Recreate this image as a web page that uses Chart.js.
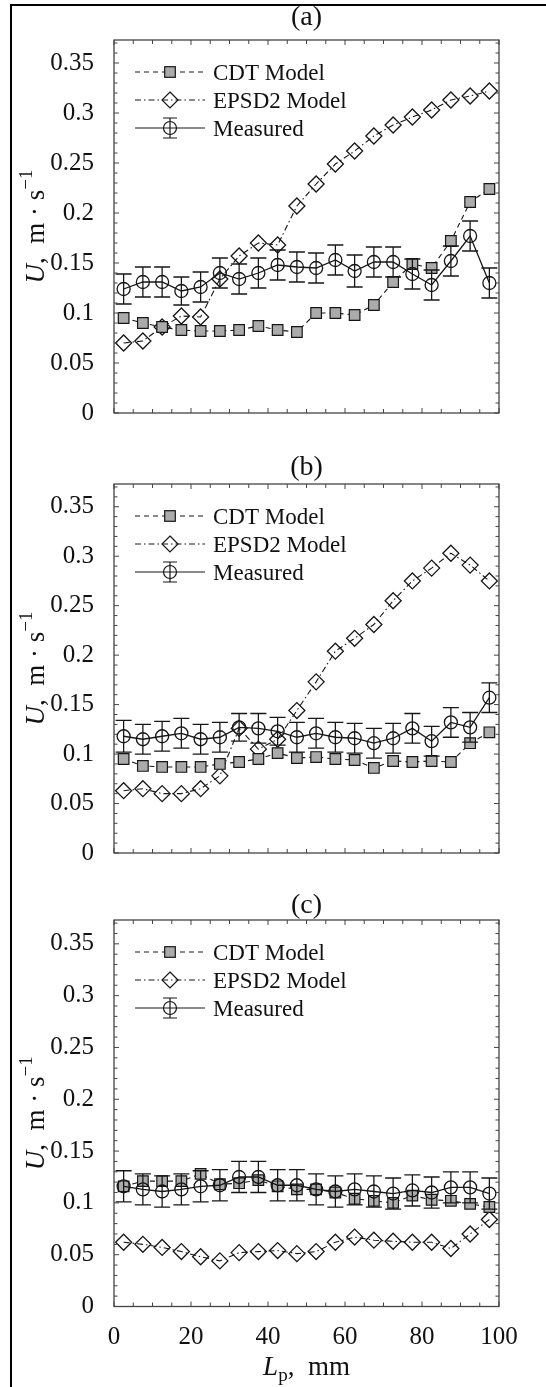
<!DOCTYPE html>
<html>
<head>
<meta charset="utf-8">
<script src="https://cdn.jsdelivr.net/npm/chart.js@4.4.1/dist/chart.umd.min.js"></script>
<style>
  html, body { margin: 0; padding: 0; background: #fff; }
  #page { position: relative; width: 546px; height: 1387px; overflow: hidden; }
  #frame { position: absolute; left: 10px; top: 4px; right: -10px; bottom: -10px;
           border-left: 2px solid #000; border-top: 2px solid #000; }
  canvas { position: absolute; left: 0; }
</style>
</head>
<body>
<div id="page">
  <div id="frame"></div>
  <canvas id="chartA" width="546" height="440" style="top:0px"></canvas>
  <canvas id="chartB" width="546" height="440" style="top:440px"></canvas>
  <canvas id="chartC" width="546" height="507" style="top:880px"></canvas>
</div>
<script>
// x positions (mm) and tick labels
const lpMm = [2.5, 7.5, 12.5, 17.5, 22.5, 27.5, 32.5, 37.5, 42.5, 47.5,
              52.5, 57.5, 62.5, 67.5, 72.5, 77.5, 82.5, 87.5, 92.5, 97.5];
const xTickLabels = [0, 20, 40, 60, 80, 100];
const yTickLabels = [0, 0.05, 0.1, 0.15, 0.2, 0.25, 0.3, 0.35];
const seriesNames = ['CDT Model', 'EPSD2 Model', 'Measured'];
const panelNames = ['(a)', '(b)', '(c)'];

// panel (a)
const cdtA  = [0.095, 0.090, 0.086, 0.083, 0.082, 0.082, 0.083, 0.087, 0.083, 0.081,
               0.100, 0.100, 0.098, 0.108, 0.131, 0.149, 0.145, 0.172, 0.211, 0.224];
const epsdA = [0.070, 0.072, 0.086, 0.097, 0.096, 0.134, 0.157, 0.170, 0.168, 0.207,
               0.229, 0.249, 0.262, 0.277, 0.288, 0.296, 0.303, 0.313, 0.317, 0.322];
const measA = [0.124, 0.131, 0.131, 0.122, 0.126, 0.140, 0.134, 0.140, 0.148, 0.146,
               0.145, 0.153, 0.142, 0.151, 0.151, 0.139, 0.128, 0.152, 0.177, 0.130];
const errA  = [0.015, 0.015, 0.015, 0.014, 0.015, 0.015, 0.015, 0.015, 0.015, 0.015,
               0.015, 0.015, 0.016, 0.015, 0.015, 0.015, 0.015, 0.015, 0.015, 0.015];

// panel (b)
const cdtB  = [0.095, 0.088, 0.087, 0.087, 0.087, 0.090, 0.092, 0.095, 0.101, 0.096,
               0.097, 0.095, 0.094, 0.086, 0.093, 0.092, 0.093, 0.092, 0.111, 0.122];
const epsdB = [0.063, 0.065, 0.060, 0.060, 0.065, 0.078, 0.126, 0.105, 0.115, 0.144,
               0.173, 0.204, 0.217, 0.231, 0.255, 0.275, 0.288, 0.303, 0.291, 0.275];
const measB = [0.118, 0.115, 0.118, 0.121, 0.115, 0.117, 0.127, 0.126, 0.123, 0.117,
               0.121, 0.117, 0.116, 0.111, 0.116, 0.126, 0.113, 0.132, 0.127, 0.157];
const errB  = [0.016, 0.015, 0.015, 0.015, 0.015, 0.015, 0.014, 0.015, 0.014, 0.015,
               0.015, 0.015, 0.015, 0.015, 0.015, 0.015, 0.015, 0.015, 0.015, 0.015];

// panel (c)
const cdtC  = [0.116, 0.121, 0.121, 0.121, 0.128, 0.118, 0.119, 0.122, 0.116, 0.113,
               0.113, 0.110, 0.104, 0.102, 0.100, 0.107, 0.103, 0.102, 0.099, 0.096];
const epsdC = [0.062, 0.060, 0.057, 0.053, 0.048, 0.044, 0.052, 0.053, 0.054, 0.051,
               0.053, 0.062, 0.067, 0.064, 0.063, 0.062, 0.062, 0.056, 0.070, 0.084];
const measC = [0.116, 0.113, 0.111, 0.113, 0.116, 0.117, 0.125, 0.125, 0.117, 0.117,
               0.113, 0.111, 0.113, 0.111, 0.109, 0.112, 0.110, 0.115, 0.115, 0.109];
const errC  = [0.015, 0.015, 0.015, 0.015, 0.015, 0.015, 0.015, 0.015, 0.015, 0.015,
               0.015, 0.015, 0.015, 0.015, 0.015, 0.015, 0.015, 0.015, 0.015, 0.015];

const SERIF = '"Liberation Serif", "Times New Roman", serif';
const INK = '#161616';
const SQUARE_FILL = '#ababab';
const DASH_CDT = [5, 4];
const DASH_EPSD = [6, 3, 1.5, 3];

function pts(arr) { return lpMm.map((x, i) => ({ x, y: arr[i] })); }

// draw a text run made of pieces with different fonts / offsets, centred on 0
function drawRuns(ctx, runs) {
  let total = 0;
  runs.forEach(r => { ctx.font = r.f; r.w = ctx.measureText(r.t).width; total += r.w; });
  let x = -total / 2;
  runs.forEach(r => { ctx.font = r.f; ctx.fillText(r.t, x, r.dy || 0); x += r.w; });
}

function drawMarker(ctx, kind, x, y) {
  ctx.save();
  ctx.setLineDash([]);
  ctx.strokeStyle = INK;
  ctx.lineWidth = 1.2;
  if (kind === 'square') {
    const s = 5.3;
    ctx.fillStyle = SQUARE_FILL;
    ctx.fillRect(x - s, y - s, 2 * s, 2 * s);
    ctx.strokeRect(x - s, y - s, 2 * s, 2 * s);
  } else if (kind === 'diamond') {
    const r = 8;
    ctx.beginPath();
    ctx.moveTo(x, y - r); ctx.lineTo(x + r, y); ctx.lineTo(x, y + r); ctx.lineTo(x - r, y);
    ctx.closePath(); ctx.stroke();
  } else {
    ctx.beginPath(); ctx.arc(x, y, 6.5, 0, Math.PI * 2); ctx.stroke();
    ctx.beginPath();
    ctx.moveTo(x, y - 10); ctx.lineTo(x, y + 10);
    ctx.moveTo(x - 7, y - 10); ctx.lineTo(x + 7, y - 10);
    ctx.moveTo(x - 7, y + 10); ctx.lineTo(x + 7, y + 10);
    ctx.stroke();
  }
  ctx.restore();
}

// box, inward ticks, error bars, legend and text labels
const panelDeco = {
  id: 'panelDeco',
  afterDatasetsDraw(chart, args, opts) {
    const ctx = chart.ctx, ys = chart.scales.y;
    const meta = chart.getDatasetMeta(opts.measIndex);
    ctx.save();
    ctx.strokeStyle = INK;
    ctx.lineWidth = 1.3;
    ctx.beginPath();
    meta.data.forEach((p, i) => {
      const v = opts.meas[i], e = opts.err[i];
      const yt = ys.getPixelForValue(v + e), yb = ys.getPixelForValue(v - e);
      ctx.moveTo(p.x, yt); ctx.lineTo(p.x, yb);
      ctx.moveTo(p.x - 8, yt); ctx.lineTo(p.x + 8, yt);
      ctx.moveTo(p.x - 8, yb); ctx.lineTo(p.x + 8, yb);
    });
    ctx.stroke();
    ctx.restore();
  },
  afterDraw(chart, args, opts) {
    const ctx = chart.ctx, a = chart.chartArea;
    const xs = chart.scales.x, ys = chart.scales.y;
    ctx.save();
    // axes box
    ctx.strokeStyle = '#444';
    ctx.lineWidth = 1.3;
    ctx.strokeRect(a.left, a.top, a.right - a.left, a.bottom - a.top);
    // inward ticks
    ctx.lineWidth = 1;
    ctx.beginPath();
    for (let k = 0; k <= 20; k++) {
      const x = xs.getPixelForValue(k * 5), len = k % 4 === 0 ? 5 : 4;
      ctx.moveTo(x, a.bottom); ctx.lineTo(x, a.bottom - len);
      ctx.moveTo(x, a.top); ctx.lineTo(x, a.top + len);
    }
    for (let k = 0; k <= 37; k++) {
      const y = ys.getPixelForValue(k / 100), len = k % 5 === 0 ? 5 : 3.5;
      ctx.moveTo(a.left, y); ctx.lineTo(a.left + len, y);
      ctx.moveTo(a.right, y); ctx.lineTo(a.right - len, y);
    }
    ctx.stroke();

    ctx.fillStyle = '#111';
    ctx.textBaseline = 'alphabetic';
    // panel title
    ctx.textAlign = 'left';
    ctx.save();
    ctx.translate((a.left + a.right) / 2, opts.titleY);
    drawRuns(ctx, [{ t: opts.title, f: '28px ' + SERIF }]);
    ctx.restore();

    // y axis title
    ctx.save();
    ctx.translate(a.left - 70, (a.top + a.bottom) / 2);
    ctx.rotate(-Math.PI / 2);
    drawRuns(ctx, [
      { t: 'U', f: 'italic 27px ' + SERIF },
      { t: ',  m \u00b7 s', f: '27px ' + SERIF },
      { t: '\u22121', f: '19px ' + SERIF, dy: -12 }
    ]);
    ctx.restore();

    // x axis title
    if (opts.xTitleY) {
      ctx.save();
      ctx.translate((a.left + a.right) / 2, opts.xTitleY);
      drawRuns(ctx, [
        { t: 'L', f: 'italic 27px ' + SERIF },
        { t: 'p', f: '19px ' + SERIF, dy: 6 },
        { t: ',  mm', f: '27px ' + SERIF }
      ]);
      ctx.restore();
    }

    // legend
    const kinds = ['square', 'diamond', 'circle'];
    const dashes = [DASH_CDT, DASH_EPSD, []];
    seriesNames.forEach((name, i) => {
      const y = a.top + 32 + i * 28;
      const x0 = a.left + 21, x1 = a.left + 91, xm = a.left + 56;
      ctx.save();
      ctx.strokeStyle = INK;
      ctx.lineWidth = 1.1;
      ctx.setLineDash(dashes[i]);
      ctx.beginPath(); ctx.moveTo(x0, y); ctx.lineTo(x1, y); ctx.stroke();
      ctx.restore();
      drawMarker(ctx, kinds[i], xm, y);
      ctx.font = '23px ' + SERIF;
      ctx.textAlign = 'left';
      ctx.fillText(name, a.left + 99, y + 8);
    });
    ctx.restore();
  }
};

function makePanel(id, idx, cdt, epsd, meas, err, cfg) {
  return new Chart(document.getElementById(id), {
    type: 'line',
    data: {
      datasets: [
        { label: seriesNames[2], data: pts(meas), order: 0,
          borderColor: INK, borderWidth: 1.3, pointStyle: 'circle', pointRadius: 6.5,
          pointBackgroundColor: 'rgba(0,0,0,0)', pointBorderColor: INK, pointBorderWidth: 1.3 },
        { label: seriesNames[0], data: pts(cdt), order: 1,
          borderColor: INK, borderWidth: 1.1, borderDash: DASH_CDT,
          pointStyle: 'rect', pointRadius: 7.5,
          pointBackgroundColor: SQUARE_FILL, pointBorderColor: INK, pointBorderWidth: 1.2 },
        { label: seriesNames[1], data: pts(epsd), order: 2,
          borderColor: INK, borderWidth: 1.1, borderDash: DASH_EPSD,
          pointStyle: 'rectRot', pointRadius: 8,
          pointBackgroundColor: 'rgba(0,0,0,0)', pointBorderColor: INK, pointBorderWidth: 1.3 }
      ]
    },
    options: {
      responsive: false,
      animation: false,
      devicePixelRatio: 1,
      events: [],
      layout: { padding: { top: cfg.padTop, bottom: cfg.padBottom, left: 0, right: 47 } },
      elements: { line: { tension: 0 } },
      plugins: {
        legend: { display: false },
        tooltip: { enabled: false },
        panelDeco: { title: panelNames[idx], titleY: cfg.titleY, xTitleY: cfg.xTitleY,
                     measIndex: 0, meas, err }
      },
      scales: {
        x: {
          type: 'linear', min: 0, max: 100,
          grid: { display: false }, border: { display: false },
          afterBuildTicks: s => { s.ticks = xTickLabels.map(v => ({ value: v })); },
          ticks: { display: cfg.showX, padding: 8, maxRotation: 0, autoSkip: false,
                   color: '#111', font: { family: SERIF, size: 25 } },
          afterFit: s => { s.height = cfg.xHeight; }
        },
        y: {
          type: 'linear', min: 0, max: 0.373,
          grid: { display: false }, border: { display: false },
          afterBuildTicks: s => { s.ticks = yTickLabels.map(v => ({ value: v })); },
          ticks: { padding: 12, color: '#111', font: { family: SERIF, size: 25 },
                   callback: v => String(v) },
          afterFit: s => { s.width = 114; }
        }
      }
    },
    plugins: [panelDeco]
  });
}

makePanel('chartA', 0, cdtA, epsdA, measA, errA,
  { padTop: 40, padBottom: 16, xHeight: 0, showX: false, titleY: 25 });
makePanel('chartB', 1, cdtB, epsdB, measB, errB,
  { padTop: 44, padBottom: 10.5, xHeight: 0, showX: false, titleY: 35 });
makePanel('chartC', 2, cdtC, epsdC, measC, errC,
  { padTop: 40, padBottom: 0, xHeight: 80.5, showX: true, titleY: 33, xTitleY: 495 });
</script>
</body>
</html>
